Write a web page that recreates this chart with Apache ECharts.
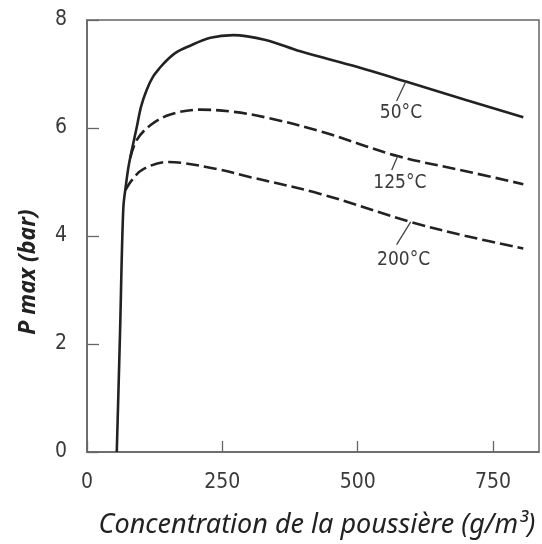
<!DOCTYPE html>
<html>
<head>
<meta charset="utf-8">
<script src="https://cdn.jsdelivr.net/npm/echarts@6/dist/echarts.min.js"></script>
<style>
  html, body { margin: 0; padding: 0; background: #fff; }
  #container { width: 542px; height: 544px; }
</style>
</head>
<body>
<div id="container"></div>
<script>
// concentration (g/m3), Pmax (bar)
var curve50 = [[55, 0], [61, 2.2], [67, 4.5], [72, 4.95], [77, 5.3], [84, 5.65], [92, 6.02], [100, 6.4],
    [110, 6.7], [122, 6.95], [135, 7.12], [148, 7.26], [165, 7.4], [185, 7.5], [228, 7.67], [270, 7.72],
    [330, 7.63], [394, 7.42], [500, 7.13], [589, 6.86], [700, 6.52], [806, 6.2]];
var curve125 = [[80, 5.45], [92, 5.78], [117, 6.05], [154, 6.25], [209, 6.34], [270, 6.3], [333, 6.19],
    [431, 5.94], [574, 5.48], [700, 5.2], [806, 4.96]];
var curve200 = [[71, 4.85], [84, 5.05], [104, 5.24], [148, 5.37], [178, 5.35], [240, 5.24], [302, 5.09],
    [431, 4.78], [598, 4.26], [700, 4.0], [806, 3.77]];
var curveNames = ['50°C', '125°C', '200°C'];
// label position and leader line ends (data units)
var labelPos = [[580, 6.27], [578, 4.98], [585, 3.56]];
var leaders = [[[589, 6.86], [572, 6.5]], [[574, 5.48], [563, 5.22]], [[598, 4.26], [572, 3.84]]];
var xTicks = [0, 250, 500, 750];
var yTicks = [0, 2, 4, 6, 8];

var dom = document.getElementById('container');
var myChart = echarts.init(dom);

function makeSeries(idx, data, dashed) {
    return {
        name: curveNames[idx],
        type: 'line',
        data: data,
        smooth: 0.35,
        showSymbol: false,
        silent: true,
        lineStyle: {
            color: '#222',
            width: 2.6,
            type: dashed ? [13, 5] : 'solid'
        },
        markLine: {
            silent: true,
            symbol: 'none',
            lineStyle: { color: '#444', width: 1.3, type: 'solid' },
            label: { show: false },
            data: [[{ coord: leaders[idx][0] }, { coord: leaders[idx][1] }]]
        },
        markPoint: {
            silent: true,
            symbol: 'circle',
            symbolSize: 1,
            itemStyle: { color: 'rgba(0,0,0,0)' },
            label: {
                show: true,
                position: 'inside',
                formatter: curveNames[idx],
                fontFamily: 'DejaVu Sans Condensed',
                fontSize: 19,
                color: '#3a3a3a'
            },
            data: [{ coord: labelPos[idx] }]
        }
    };
}

var option = {
    animation: false,
    backgroundColor: '#fff',
    grid: {
        left: 87,
        right: 3,
        top: 20,
        bottom: 89,
        show: true,
        borderColor: '#666',
        borderWidth: 1.5
    },
    xAxis: {
        type: 'value',
        min: 0,
        max: 835,
        interval: 250,
        name: 'Concentration de la poussière (g/m³)',
        nameLocation: 'middle',
        nameGap: 60,
        nameTextStyle: {
            fontFamily: 'Noto Sans',
            fontStyle: 'italic',
            fontSize: 27,
            color: '#222',
            padding: [0, 0, 0, 8]
        },
        splitLine: { show: false },
        axisLine: { lineStyle: { color: '#666', width: 1.5 } },
        axisTick: { inside: true, length: 11, lineStyle: { color: '#666', width: 1.3 } },
        axisLabel: {
            margin: 20,
            showMaxLabel: false,
            fontFamily: 'DejaVu Sans Condensed',
            fontSize: 21,
            color: '#3a3a3a',
            formatter: function (v) {
                return xTicks.indexOf(v) >= 0 ? String(v) : '';
            }
        }
    },
    yAxis: {
        type: 'value',
        min: 0,
        max: 8,
        interval: 2,
        name: 'P max (bar)',
        nameLocation: 'middle',
        nameGap: 47,
        nameTextStyle: {
            fontFamily: 'Noto Sans',
            fontStyle: 'italic',
            fontWeight: 'bold',
            fontSize: 23,
            color: '#222',
            padding: [0, 72, 0, 0]
        },
        splitLine: { show: false },
        axisLine: { lineStyle: { color: '#666', width: 1.5 } },
        axisTick: { inside: true, length: 12, lineStyle: { color: '#666', width: 1.3 } },
        axisLabel: {
            margin: 20,
            fontFamily: 'DejaVu Sans Condensed',
            fontSize: 21,
            color: '#3a3a3a',
            formatter: function (v) {
                return yTicks.indexOf(v) >= 0 ? String(v) : '';
            }
        }
    },
    series: [
        makeSeries(0, curve50, false),
        makeSeries(1, curve125, true),
        makeSeries(2, curve200, true)
    ]
};

if (option && typeof option === 'object') {
    myChart.setOption(option, true);
}
</script>
</body>
</html>
